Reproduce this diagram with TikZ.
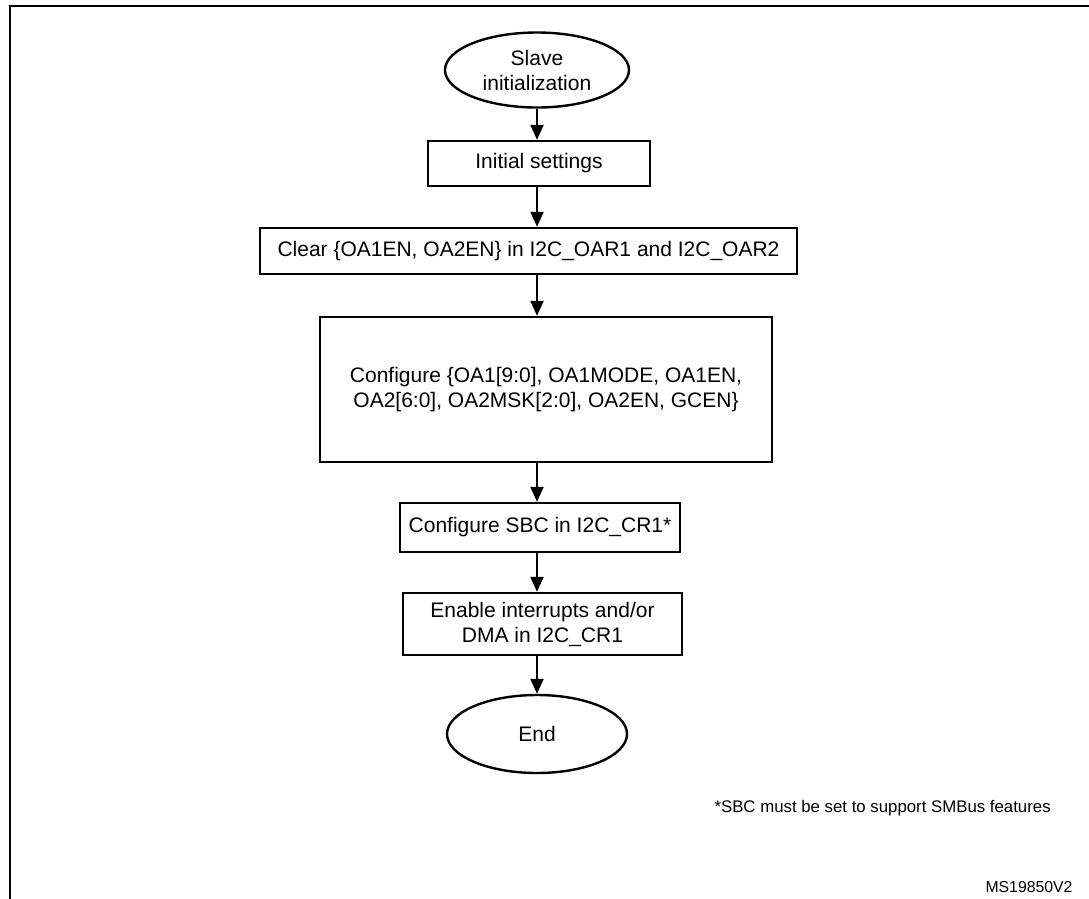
\documentclass[tikz,border=0pt]{standalone}
\usepackage{fontspec}
\setmainfont{Liberation Sans}
\usetikzlibrary{shapes.geometric,arrows.meta}
\begin{document}
\begin{tikzpicture}[x=1pt,y=-1pt,
  every node/.style={font=\fontsize{21}{25}\selectfont},
  flowbox/.style={draw,line width=2.4pt,rectangle,inner sep=0pt,align=center},
  term/.style={draw,line width=2.4pt,ellipse,inner sep=0pt,align=center},
  arr/.style={line width=2.2pt,-{Triangle[length=15pt,width=13pt]}}]
\useasboundingbox (0,0) rectangle (1089,898);
\fill[white] (0,0) rectangle (1089,898);
\begin{scope}
\clip (0,0) rectangle (1089,898);
\draw[line width=2.2pt] (10,6) rectangle (1100,910);
\end{scope}
\node[term,minimum width=184pt,minimum height=75pt] (s) at (537,70) {Slave\\initialization};
\node[flowbox,minimum width=222pt,minimum height=45pt] (i) at (539,163.5) {Initial settings};
\node[flowbox,minimum width=537pt,minimum height=46pt] (c) at (528.5,251) {Clear \{OA1EN, OA2EN\} in I2C\_OAR1 and I2C\_OAR2};
\node[flowbox,minimum width=452pt,minimum height=145pt] (g) at (546,389.5) {Configure \{OA1[9:0], OA1MODE, OA1EN,\\OA2[6:0], OA2MSK[2:0], OA2EN, GCEN\}};
\node[flowbox,minimum width=280pt,minimum height=49pt] (b) at (540,527.5) {Configure SBC in I2C\_CR1*};
\node[flowbox,minimum width=279pt,minimum height=62pt] (e) at (542.5,624) {Enable interrupts and/or\\DMA in I2C\_CR1};
\node[term,minimum width=180pt,minimum height=78pt] (d) at (537,734) {End};
\draw[arr] (s.south) -- (s.south |- i.north);
\draw[arr] (s.south |- i.south) -- (s.south |- c.north);
\draw[arr] (s.south |- c.south) -- (s.south |- g.north);
\draw[arr] (s.south |- g.south) -- (s.south |- b.north);
\draw[arr] (s.south |- b.south) -- (s.south |- e.north);
\draw[arr] (s.south |- e.south) -- (d.north);
\node[anchor=west,font=\fontsize{16.8}{20}\selectfont] (fn) at (711,808) {*SBC must be set to support SMBus features};
\node[anchor=east,font=\fontsize{15.8}{18}\selectfont] (ms) at (1076,887) {MS19850V2};
\end{tikzpicture}
\end{document}
